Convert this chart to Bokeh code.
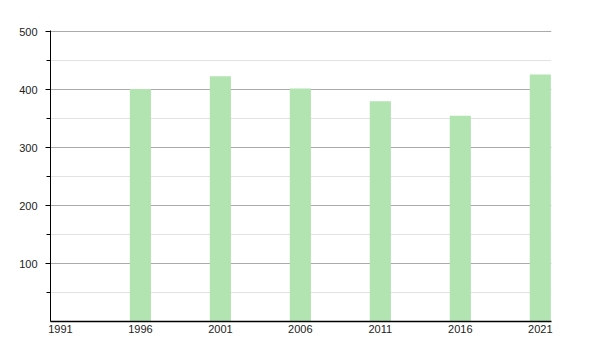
from bokeh.plotting import figure
from bokeh.models import FixedTicker, Range1d, ColumnDataSource
from bokeh.embed import file_html
from bokeh.resources import INLINE

years = [1996, 2001, 2006, 2011, 2016, 2021]
values = [401, 423, 402, 380, 355, 426]
x_ticks = [1991, 1996, 2001, 2006, 2011, 2016, 2021]
y_ticks = [100, 200, 300, 400, 500]
y_minor = [50, 150, 250, 350, 450]

src = ColumnDataSource(dict(x=years, top=values))

p = figure(width=600, height=350, output_backend="svg", toolbar_location=None,
           x_range=Range1d(1990.38, 2021.7), y_range=Range1d(0, 502),
           min_border_left=50, min_border_right=49, min_border_top=30, min_border_bottom=29)
p.outline_line_color = None
p.background_fill_color = "white"
p.border_fill_color = "white"

p.vbar(x="x", top="top", width=1.32, bottom=0, source=src,
       fill_color="#b1e4b1", line_color=None)

p.xaxis.ticker = FixedTicker(ticks=x_ticks)
p.xaxis.major_tick_out = 0
p.xaxis.major_tick_in = 0
p.xaxis.minor_tick_out = 0
p.xaxis.minor_tick_in = 0
p.xaxis.axis_line_color = "black"
p.xaxis.axis_line_width = 1.5
p.xaxis.major_label_standoff = 3
p.xaxis.major_label_text_font = "Liberation Sans"
p.xaxis.major_label_text_font_size = "11px"
p.xaxis.major_label_text_color = "#222222"

p.yaxis.ticker = FixedTicker(ticks=y_ticks, minor_ticks=y_minor)
p.yaxis.major_tick_out = 5
p.yaxis.major_tick_in = 0
p.yaxis.minor_tick_out = 4
p.yaxis.minor_tick_in = 0
p.yaxis.axis_line_color = "black"
p.yaxis.major_tick_line_color = "black"
p.yaxis.minor_tick_line_color = "black"
p.yaxis.major_label_standoff = 8
p.yaxis.major_label_text_font = "Liberation Sans"
p.yaxis.major_label_text_font_size = "11px"
p.yaxis.major_label_text_color = "#222222"

p.xgrid.grid_line_color = None
p.ygrid.grid_line_color = "#aaaaaa"
p.ygrid.minor_grid_line_color = "#e2e2e2"

open("out.html", "w").write(file_html(p, INLINE))
